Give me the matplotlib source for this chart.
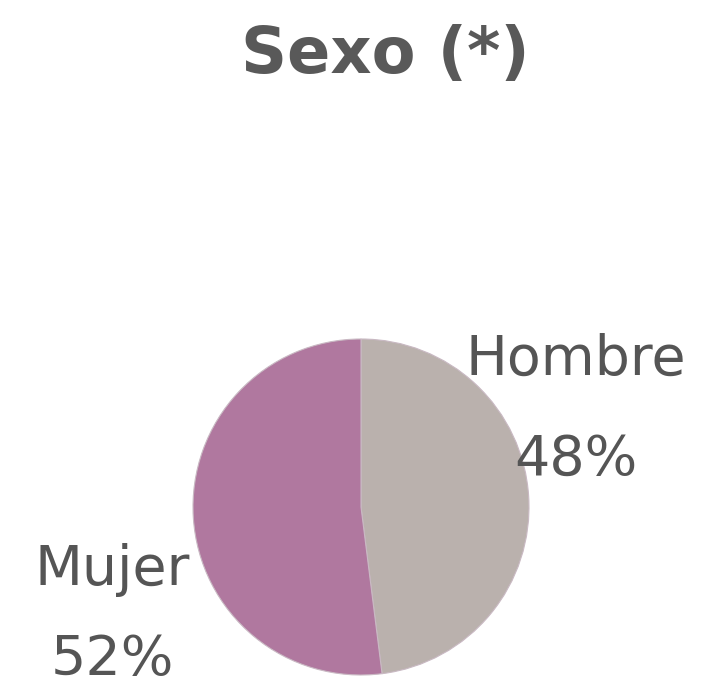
import matplotlib
matplotlib.use("Agg")
import matplotlib.pyplot as plt

title = "Sexo (*)"
categories = ["Hombre", "Mujer"]
values = [48, 52]
colors = ["#BAB1AD", "#B0789F"]

W, H = 707, 698
fig = plt.figure(figsize=(W / 100, H / 100), dpi=100)
ax = fig.add_axes([0, 0, 1, 1])

ax.pie(values, colors=colors, startangle=90, counterclock=False,
       center=(361, H - 507), radius=168,
       wedgeprops=dict(edgecolor="#C9B9C3", linewidth=0.8))
ax.set_xlim(0, W)
ax.set_ylim(0, H)
ax.set_aspect("equal")
ax.axis("off")

label_pos = {"Hombre": (576, 360, 460), "Mujer": (112, 570, 660)}
for cat, val in zip(categories, values):
    x, y1, y2 = label_pos[cat]
    ax.text(x, H - y1, cat, ha="center", va="center", fontsize=40,
            color="#555555", family="DejaVu Sans")
    ax.text(x, H - y2, f"{val}%", ha="center", va="center", fontsize=40,
            color="#555555", family="DejaVu Sans")

ax.text(385, H - 55, title, ha="center", va="center", fontsize=46,
        fontweight="bold", color="#595959", family="DejaVu Sans")

fig.savefig("out.png", dpi=100)
